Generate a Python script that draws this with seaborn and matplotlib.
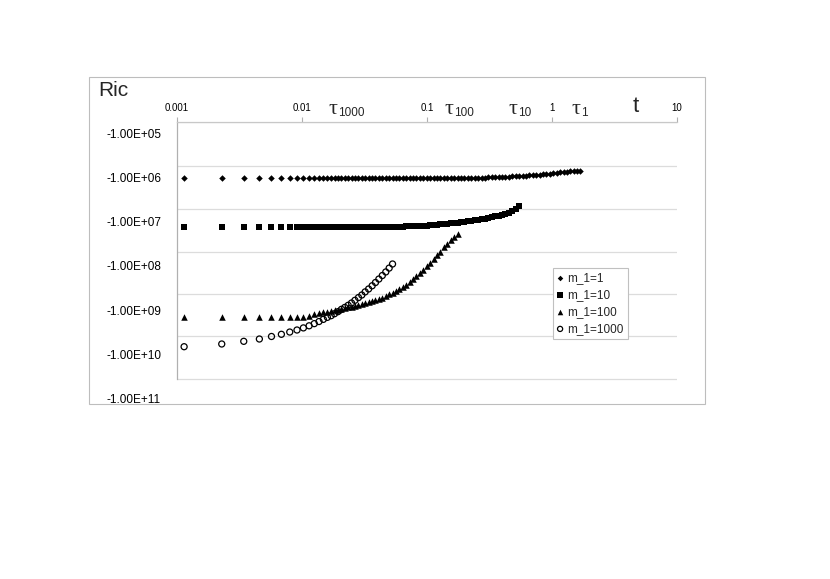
import matplotlib
matplotlib.use("Agg")
import matplotlib.pyplot as plt
import numpy as np
import pandas as pd
import seaborn as sns
from matplotlib.ticker import FixedLocator, NullFormatter, NullLocator
from matplotlib.patches import Rectangle

# ---------------- data ----------------
t = [0.00114, 0.00228, 0.00342, 0.00456, 0.0057, 0.00684, 0.00798, 0.00912, 0.01026, 0.0114,
     0.01254, 0.01368, 0.01482, 0.01596, 0.0171,
     0.0182, 0.0194, 0.0207, 0.022, 0.0234, 0.0249, 0.0265, 0.0283, 0.0301, 0.032,
     0.0341, 0.0364, 0.0387, 0.0412, 0.0439, 0.0468, 0.0498, 0.053, 0.0565, 0.0602,
     0.0641, 0.0682, 0.0727, 0.0774, 0.0824, 0.0878, 0.0935, 0.0996, 0.106, 0.113,
     0.12, 0.128, 0.137, 0.145, 0.155, 0.165, 0.176, 0.187, 0.199, 0.212,
     0.226, 0.241, 0.256, 0.273, 0.291, 0.31, 0.33, 0.351, 0.374, 0.398,
     0.424, 0.452, 0.481, 0.512, 0.546, 0.581, 0.619, 0.659, 0.702, 0.748,
     0.796, 0.848, 0.903, 0.962, 1.02, 1.09, 1.16, 1.24, 1.32, 1.4,
     1.49, 1.59, 1.67]

ric_m1_1 = [-1.05e6, -1.05e6, -1.05e6, -1.05e6, -1.05e6, -1.05e6, -1.05e6, -1.05e6, -1.05e6, -1.05e6,
            -1.05e6, -1.05e6, -1.05e6, -1.05e6, -1.05e6, -1.05e6, -1.05e6, -1.05e6, -1.05e6, -1.05e6,
            -1.05e6, -1.05e6, -1.05e6, -1.05e6, -1.05e6, -1.05e6, -1.05e6, -1.05e6, -1.05e6, -1.05e6,
            -1.05e6, -1.05e6, -1.05e6, -1.05e6, -1.05e6, -1.05e6, -1.05e6, -1.05e6, -1.05e6, -1.05e6,
            -1.05e6, -1.05e6, -1.05e6, -1.05e6, -1.05e6, -1.05e6, -1.05e6, -1.05e6, -1.05e6, -1.05e6,
            -1.05e6, -1.05e6, -1.05e6, -1.05e6,
            -1.04e6, -1.04e6, -1.04e6, -1.03e6, -1.02e6, -1.02e6, -1.01e6, -1.01e6, -1.00e6, -9.95e5,
            -9.84e5, -9.74e5, -9.64e5, -9.54e5, -9.44e5, -9.35e5, -9.25e5, -9.16e5, -9.06e5, -8.92e5,
            -8.83e5, -8.65e5, -8.56e5, -8.42e5, -8.29e5, -8.12e5, -7.96e5, -7.79e5, -7.63e5, -7.47e5,
            -7.32e5, -7.21e5, -7.13e5, -7.06e5]

ric_m1_10 = [-1.30e7, -1.30e7, -1.30e7, -1.30e7, -1.30e7, -1.30e7, -1.30e7, -1.30e7, -1.30e7, -1.30e7,
             -1.30e7, -1.30e7, -1.30e7, -1.30e7, -1.30e7, -1.30e7, -1.30e7, -1.30e7, -1.30e7, -1.30e7,
             -1.30e7, -1.30e7, -1.30e7, -1.30e7, -1.30e7, -1.30e7, -1.30e7, -1.30e7, -1.30e7, -1.30e7,
             -1.30e7, -1.30e7, -1.30e7, -1.30e7, -1.30e7,
             -1.30e7, -1.29e7, -1.29e7, -1.28e7, -1.27e7, -1.26e7, -1.24e7, -1.23e7, -1.21e7, -1.20e7,
             -1.18e7, -1.16e7, -1.14e7, -1.12e7, -1.10e7, -1.08e7, -1.06e7, -1.03e7, -1.01e7, -9.90e6,
             -9.59e6, -9.35e6, -9.11e6, -8.83e6, -8.56e6, -8.25e6, -7.91e6, -7.63e6, -7.40e6, -7.10e6,
             -6.73e6, -6.30e6, -5.76e6, -5.28e6, -4.35e6]

ric_m1_100 = [-1.45e9, -1.45e9, -1.45e9, -1.45e9, -1.45e9, -1.45e9, -1.45e9, -1.45e9,
              -1.39e9, -1.32e9, -1.24e9, -1.17e9, -1.12e9, -1.08e9, -1.04e9,
              -1.01e9, -9.74e8, -9.35e8, -9.01e8, -8.65e8, -8.29e8, -7.96e8, -7.63e8, -7.29e8, -6.91e8,
              -6.57e8, -6.23e8, -5.92e8, -5.65e8, -5.19e8, -4.78e8, -4.40e8, -4.05e8, -3.75e8, -3.34e8,
              -3.03e8, -2.70e8, -2.31e8, -1.98e8, -1.68e8, -1.43e8, -1.21e8, -1.02e8, -8.60e7, -7.06e7,
              -5.82e7, -4.75e7, -3.84e7, -3.20e7, -2.60e7, -2.17e7, -1.86e7]

ric_m1_1000 = [-6.67e9, -5.79e9, -5.04e9, -4.47e9, -3.92e9, -3.50e9, -3.11e9, -2.80e9, -2.51e9, -2.25e9,
               -2.01e9, -1.80e9, -1.61e9, -1.45e9, -1.33e9, -1.20e9, -1.08e9, -9.54e8, -8.65e8, -7.75e8,
               -6.88e8, -5.98e8, -5.19e8, -4.54e8, -3.86e8, -3.32e8, -2.81e8, -2.37e8, -1.98e8, -1.65e8,
               -1.37e8, -1.12e8, -9.06e7]

series_labels = ["m_1=1", "m_1=10", "m_1=100", "m_1=1000"]
series_values = [ric_m1_1, ric_m1_10, ric_m1_100, ric_m1_1000]

x_tick_values = [0.001, 0.01, 0.1, 1, 10]
x_tick_labels = ["0.001", "0.01", "0.1", "1", "10"]
y_tick_values = [-1e5, -1e6, -1e7, -1e8, -1e9, -1e10, -1e11]
y_tick_labels = ["-1.00E+05", "-1.00E+06", "-1.00E+07", "-1.00E+08",
                 "-1.00E+09", "-1.00E+10", "-1.00E+11"]
tau_subscripts = ["1000", "100", "10", "1"]

# ---------------- long table ----------------
frames = []
for lab, vals in zip(series_labels, series_values):
    frames.append(pd.DataFrame({"t": t[:len(vals)], "Ric": vals, "series": lab}))
df = pd.concat(frames, ignore_index=True)
df["mag"] = -df["Ric"]

# ---------------- style ----------------
sns.set_theme(style="white")
plt.rcParams["font.family"] = ["Liberation Sans", "DejaVu Sans"]

W, H = 830, 579
fig = plt.figure(figsize=(W / 100, H / 100), dpi=100)

def fx(px):
    return px / W

def fy(py):
    return 1 - py / H

# axes: x 0.001 at px 177, 10 at px 677; y top px 122, bottom px 405
ax_left, ax_right, ax_top, ax_bot = 177, 677, 122, 405
ax = fig.add_axes([fx(ax_left), fy(ax_bot), (ax_right - ax_left) / W, (ax_bot - ax_top) / H])

styles = {
    "m_1=1": dict(marker="D", s=11, color="black", linewidth=0),
    "m_1=10": dict(marker="s", s=19, color="black", linewidth=0),
    "m_1=100": dict(marker="^", s=22, color="black", linewidth=0),
    "m_1=1000": dict(marker="o", s=19, facecolors="none", edgecolors="black", linewidths=0.9),
}
for lab in series_labels:
    sub = df[df["series"] == lab]
    sns.scatterplot(data=sub, x="t", y="mag", ax=ax, label=lab, legend=False, **styles[lab])

ax.set_xscale("log")
ax.set_yscale("log")
ax.set_xlim(1e-3, 10)
# y mapping: 1e5 label centre at px 133, 44.3 px per decade
def k_of_px(py):
    return 5 + (py - 133) / 44.3

ax.set_ylim(10 ** k_of_px(ax_bot), 10 ** k_of_px(ax_top))

grid_px = [122, 165.7, 209.3, 251.7, 294, 336, 379]
grid_vals = [10 ** k_of_px(p) for p in grid_px]

ax.set_yticks([-v for v in y_tick_values], labels=y_tick_labels)
ax.yaxis.set_minor_locator(FixedLocator(grid_vals))
ax.yaxis.set_minor_formatter(NullFormatter())
ax.tick_params(axis="y", which="major", length=0, pad=11.5, labelsize=8.5, colors="black")
ax.tick_params(axis="y", which="minor", length=3, width=0.8, color="#d0d0d0")
ax.grid(False)
ax.grid(True, which="minor", axis="y", color="#dcdcdc", linewidth=0.9)

ax.xaxis.tick_top()
ax.set_xticks(x_tick_values, labels=x_tick_labels)
ax.xaxis.set_minor_locator(NullLocator())
ax.tick_params(axis="x", which="major", direction="out", length=3.6, width=0.8,
               color="#b0b0b0", labelsize=7, pad=3, labelcolor="black")
ax.set_xlabel("")
ax.set_ylabel("")

for side in ["right", "bottom"]:
    ax.spines[side].set_visible(False)
ax.spines["top"].set_color("#c8c8c8")
ax.spines["top"].set_linewidth(0.9)
ax.spines["left"].set_color("#b0b0b0")
ax.spines["left"].set_linewidth(0.9)
ax.spines["left"].set_bounds(grid_vals[-1], grid_vals[0])

leg = ax.legend(loc="upper left", bbox_to_anchor=(fx(553), fy(268)), bbox_transform=fig.transFigure,
                borderaxespad=0, fontsize=8.5, frameon=True, fancybox=False, shadow=False,
                handlelength=0.5, handletextpad=0.35, borderpad=0.35, labelspacing=0.42,
                scatterpoints=1, markerscale=0.85)
leg.get_frame().set_edgecolor("#c0c0c0")
leg.get_frame().set_linewidth(0.8)
leg.get_frame().set_alpha(1)

# header texts
fig.text(fx(98), fy(96), "Ric", fontsize=15, ha="left", va="baseline")
fig.text(fx(636), fy(112), "t", fontsize=16, ha="center", va="baseline")
tau_centers = [333, 449, 512.5, 575.5]
for xc, sub in zip(tau_centers, tau_subscripts):
    fig.text(fx(xc), fy(114), "\u03c4", fontsize=16, family=["Liberation Serif", "DejaVu Serif"],
             ha="center", va="baseline")
    fig.text(fx(xc + 5.5), fy(115.5), sub, fontsize=8.5, ha="left", va="baseline")

# outer chart frame
fig.add_artist(Rectangle((fx(88.5), fy(404)), 616 / W, 327 / H, transform=fig.transFigure,
                         fill=False, edgecolor="#bdbdbd", linewidth=0.8))

fig.savefig("out.png", dpi=100, facecolor="white")
